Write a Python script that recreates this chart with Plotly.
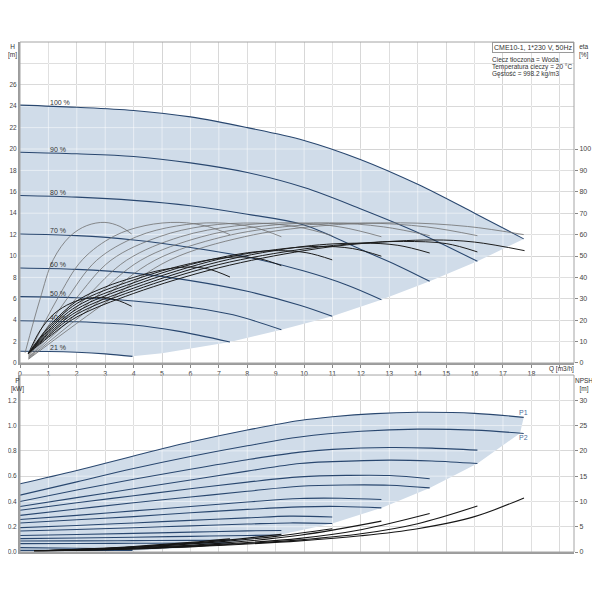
import numpy as np
import plotly.graph_objects as go

speed_labels = ["100 %", "90 %", "80 %", "70 %", "60 %", "50 %", "40 %", "21 %"]

# H [m] against Q [m3/h], one list per speed
head_q = [
    [0, 2, 4, 6, 8, 10, 12, 14, 16, 17.73],
    [0, 2, 4, 6, 8, 10, 12, 14, 16.1],
    [0, 2, 4, 6, 8, 10, 12, 13.3, 14.42],
    [0, 2, 4, 6, 8, 10, 11.5, 12.72],
    [0, 2, 4, 6, 8, 9.85, 10.99],
    [0, 2, 4, 6, 7.5, 9.2],
    [0, 2, 4, 5.5, 7.39],
    [0, 1, 2, 3, 3.96],
]
head_h = [
    [24.1, 23.9, 23.6, 23.0, 22.0, 20.8, 19.0, 16.7, 14.0, 11.6],
    [19.7, 19.55, 19.3, 18.7, 17.8, 16.4, 14.4, 12.2, 9.5],
    [15.65, 15.5, 15.2, 14.7, 13.9, 12.9, 10.6, 9.1, 7.63],
    [12.05, 11.9, 11.5, 10.8, 9.9, 8.6, 7.3, 5.92],
    [8.88, 8.75, 8.4, 7.7, 6.7, 5.4, 4.36],
    [6.2, 6.1, 5.8, 5.2, 4.5, 3.1],
    [3.95, 3.85, 3.55, 3.0, 1.96],
    [1.1, 1.08, 1.0, 0.85, 0.62],
]

# lower right edge of the shaded H area
edge_q = [5.0, 7.39, 9.2, 10.99, 12.72, 14.42, 16.1, 17.73]
edge_h = [0.9, 1.96, 3.1, 4.36, 5.92, 7.63, 9.5, 11.6]

# eta [%] thin grey curves
eta_q = [
    [0.3, 3.15, 5.25, 7.9, 10.5, 13.4, 15.75, 17.73],
    [0.3, 2.85, 4.75, 7.15, 9.55, 12.15, 14.3, 16.1],
    [0.3, 2.55, 4.25, 6.4, 8.55, 10.9, 12.8, 14.42],
    [0.3, 2.25, 3.75, 5.65, 7.55, 9.6, 11.3, 12.72],
    [0.3, 1.9, 3.2, 4.9, 6.5, 8.3, 9.8, 10.99],
    [0.3, 1.6, 2.7, 4.1, 5.5, 6.9, 8.2, 9.2],
    [0.3, 1.3, 2.2, 3.3, 4.4, 5.6, 6.6, 7.39],
    [0.18, 0.7, 1.17, 1.76, 2.35, 2.99, 3.52, 3.93],
]
eta_v = [
    [1.8, 29.5, 48, 59, 64, 65.5, 63.8, 60],
    [2, 29.5, 48, 59, 64, 65.4, 63.6, 59.5],
    [2.3, 29.5, 48, 59, 64, 65.5, 63.6, 59.5],
    [2.5, 29.5, 48, 59, 64, 65.5, 63.5, 59],
    [3, 29, 48, 59, 64, 65.4, 63.5, 59.5],
    [3.5, 29, 48, 59, 64, 65.5, 63.5, 59],
    [4, 29.6, 48.3, 59.2, 64.2, 65.7, 63.8, 60],
    [4.8, 29.6, 48.3, 59.2, 64.2, 65.7, 63.8, 60.3],
]

# eta [%] black curves
etat_q = [
    [0.3, 1, 2, 4, 7, 10, 12, 14.5, 16, 17.76],
    [0.3, 1, 2, 4, 7, 10, 12, 13.5, 15, 16.1],
    [0.3, 1, 2, 4, 7, 10, 12, 13.3, 14.42],
    [0.3, 1, 2, 4, 7, 9, 10.5, 11.7, 12.72],
    [0.3, 1, 2, 4, 6, 8, 9.1, 10.1, 10.99],
    [0.3, 1, 2, 4, 6, 7.5, 8.4, 9.2],
    [0.3, 1, 2, 3, 4, 5, 5.8, 6.6, 7.39],
    [0.3, 0.7, 1.2, 1.8, 2.4, 3.0, 3.5, 3.93],
]
etat_v = [
    [4.5, 12, 21.5, 32.5, 44.5, 52.5, 55.8, 57.5, 56.5, 52.5],
    [4.5, 12.8, 22.8, 33.8, 46, 53.3, 56, 56.8, 55.8, 51.9],
    [4.5, 13.6, 24, 35, 47.3, 54.5, 56, 55, 51.4],
    [4.5, 14.4, 25.2, 36.3, 48.5, 53, 54.5, 53.5, 49.9],
    [4.5, 15.2, 26.5, 37.5, 46, 51.5, 52.5, 51.5, 48.2],
    [4.5, 16, 27.8, 38.8, 46.5, 49.5, 48.8, 45.5],
    [4.5, 16.8, 29, 35.5, 40, 43.5, 44.8, 44, 40.2],
    [4.5, 15, 23, 28, 30.3, 30.5, 29, 26.5],
]

# P1 / P2 [kW]
p1_q = [
    [0, 2, 4, 6, 8, 9.85, 11, 12.5, 14, 16, 17.73],
    [0, 2, 4, 6, 8, 9.85, 11, 13, 14.5, 16.1],
    [0, 2, 4, 6, 8, 9.85, 11.5, 13, 14.42],
    [0, 2, 4, 6, 8, 9.85, 11.3, 12.72],
    [0, 2, 4, 6, 8, 9.5, 10.99],
    [0, 2, 4, 6, 8, 9.2],
    [0, 2, 4, 6, 7.39],
    [0, 2, 3.96],
]
p1_v = [
    [0.54, 0.645, 0.76, 0.87, 0.965, 1.04, 1.07, 1.095, 1.105, 1.097, 1.065],
    [0.40, 0.49, 0.575, 0.655, 0.73, 0.79, 0.812, 0.827, 0.822, 0.806],
    [0.33, 0.39, 0.445, 0.50, 0.553, 0.594, 0.606, 0.605, 0.58],
    [0.257, 0.29, 0.325, 0.36, 0.395, 0.423, 0.425, 0.415],
    [0.193, 0.21, 0.23, 0.25, 0.27, 0.284, 0.277],
    [0.13, 0.138, 0.147, 0.157, 0.167, 0.17],
    [0.087, 0.088, 0.09, 0.092, 0.093],
    [0.035, 0.03, 0.025],
]
p2_q = [
    [0, 2, 4, 6, 8, 9.85, 12, 14, 16, 17.73],
    [0, 2, 4, 6, 8, 9.85, 11, 13, 14.5, 16.1],
    [0, 2, 4, 6, 8, 9.85, 11.5, 13, 14.42],
    [0, 2, 4, 6, 8, 9.85, 11.3, 12.72],
    [0, 2, 4, 6, 8, 9.5, 10.99],
    [0, 2, 4, 6, 8, 9.2],
    [0, 2, 4, 6, 7.39],
    [0, 2, 3.96],
]
p2_v = [
    [0.45, 0.555, 0.66, 0.755, 0.84, 0.91, 0.955, 0.972, 0.964, 0.938],
    [0.36, 0.43, 0.50, 0.57, 0.64, 0.70, 0.715, 0.727, 0.72, 0.70],
    [0.29, 0.34, 0.39, 0.435, 0.48, 0.52, 0.53, 0.528, 0.507],
    [0.23, 0.255, 0.28, 0.31, 0.337, 0.357, 0.36, 0.349],
    [0.166, 0.178, 0.192, 0.207, 0.221, 0.23, 0.225],
    [0.106, 0.111, 0.117, 0.124, 0.131, 0.134],
    [0.066, 0.067, 0.069, 0.071, 0.072],
    [0.013, 0.013, 0.012],
]

# lower edge of the shaded P area
p_edge_q = [0, 3.96, 5.6, 7.39, 9.2, 10.99, 12.72, 14.42, 16.1, 17.6, 17.73]
p_edge_v = [0, 0.01, 0.03, 0.072, 0.138, 0.225, 0.349, 0.507, 0.70, 0.94, 1.065]

# NPSH [m]
npsh_q = [
    [0.5, 4, 7, 9.85, 12, 14, 16, 17.74],
    [0.5, 4, 7, 9.85, 12, 14, 16.1],
    [0.5, 4, 7, 9.85, 12, 14.42],
    [0.5, 4, 7, 9.85, 12.72],
    [0.5, 4, 7, 9, 10.99],
    [0.5, 4, 7, 9.2],
    [0.5, 4, 6, 7.39],
    [0.5, 2.5, 3.96],
]
npsh_v = [
    [0.2, 0.6, 1.3, 2.2, 3.2, 4.6, 7.0, 10.7],
    [0.2, 0.6, 1.4, 2.4, 3.6, 5.6, 9.1],
    [0.2, 0.7, 1.5, 2.7, 4.4, 7.6],
    [0.2, 0.8, 1.7, 3.3, 6.1],
    [0.2, 0.9, 2.0, 3.1, 4.6],
    [0.2, 1.0, 2.2, 3.5],
    [0.2, 1.1, 1.9, 2.6],
    [0.2, 0.6, 1.0],
]

q_ticks = list(range(0, 20))
h_ticks = list(range(0, 30, 2))
eta_ticks = list(range(0, 110, 10))
p_ticks = [0.0, 0.2, 0.4, 0.6, 0.8, 1.0, 1.2]
npsh_ticks = list(range(0, 35, 5))

FONT = "Liberation Sans, Arial, sans-serif"
FS = 7
FILL = "#d0dce9"
BLUE = "#29476f"
GRIDC = "#c6c6c6"
fig = go.Figure()


def grid_trace(xax, yax, ymax, yt):
    gx, gy = [], []
    for q in q_ticks[1:]:
        gx += [q, q, None]
        gy += [0, ymax, None]
    for h in yt[1:]:
        gx += [0, 19.5, None]
        gy += [h, h, None]
    return go.Scatter(x=gx, y=gy, mode="lines", xaxis=xax, yaxis=yax,
                      line=dict(color="rgba(255,255,255,0.5)", width=1),
                      hoverinfo="skip", showlegend=False)


# ---- top: shaded area
fig.add_trace(go.Scatter(x=head_q[-1] + edge_q, y=head_h[-1] + edge_h, mode="lines",
                         line=dict(width=0), xaxis="x", yaxis="y", showlegend=False,
                         hoverinfo="skip"))
fig.add_trace(go.Scatter(x=head_q[0], y=head_h[0], mode="lines", fill="tonexty",
                         fillcolor=FILL, line=dict(width=0, shape="spline"),
                         xaxis="x", yaxis="y", showlegend=False, hoverinfo="skip"))
fig.add_trace(grid_trace("x", "y", 30, h_ticks))

for i, lab in enumerate(speed_labels):
    fig.add_trace(go.Scatter(x=head_q[i], y=head_h[i], mode="lines", name=lab,
                             line=dict(color=BLUE, width=1.1, shape="spline"),
                             xaxis="x", yaxis="y", showlegend=False))
for i in range(len(speed_labels)):
    fig.add_trace(go.Scatter(x=eta_q[i], y=eta_v[i], mode="lines",
                             line=dict(color="#707070", width=0.8, shape="spline"),
                             xaxis="x", yaxis="y3", showlegend=False))
for i in range(len(speed_labels)):
    fig.add_trace(go.Scatter(x=etat_q[i], y=etat_v[i], mode="lines",
                             line=dict(color="#1c1c1c", width=1.0, shape="spline"),
                             xaxis="x", yaxis="y3", showlegend=False))

# ---- bottom: shaded area
fig.add_trace(go.Scatter(x=p_edge_q, y=p_edge_v, mode="lines", line=dict(width=0),
                         xaxis="x2", yaxis="y2", showlegend=False, hoverinfo="skip"))
fig.add_trace(go.Scatter(x=p1_q[0], y=p1_v[0], mode="lines", fill="tonexty",
                         fillcolor=FILL, line=dict(width=0, shape="spline"),
                         xaxis="x2", yaxis="y2", showlegend=False, hoverinfo="skip"))
fig.add_trace(grid_trace("x2", "y2", 1.4, p_ticks + [1.4]))

for i in range(len(speed_labels)):
    for qq, vv in ((p1_q[i], p1_v[i]), (p2_q[i], p2_v[i])):
        fig.add_trace(go.Scatter(x=qq, y=vv, mode="lines",
                                 line=dict(color=BLUE, width=1.1, shape="spline"),
                                 xaxis="x2", yaxis="y2", showlegend=False))
for i in range(len(speed_labels)):
    fig.add_trace(go.Scatter(x=npsh_q[i], y=npsh_v[i], mode="lines",
                             line=dict(color="#161616", width=1.1, shape="spline"),
                             xaxis="x2", yaxis="y4", showlegend=False))

tickfont = dict(family=FONT, size=FS, color="#444")
small = dict(family=FONT, size=6.5, color="#444")
common_x = dict(range=[0, 19.5], tickvals=q_ticks, showgrid=True, gridcolor=GRIDC,
                gridwidth=1, zeroline=False, showline=True, linecolor="#9c9c9c",
                linewidth=2, ticks="outside", ticklen=3, tickcolor="#888",
                tickfont=tickfont, automargin=False)
common_y = dict(showgrid=True, gridcolor=GRIDC, gridwidth=1, zeroline=False,
                showline=True, linecolor="#9c9c9c", linewidth=2, ticks="",
                tickfont=small, automargin=False)
right_y = dict(showgrid=False, zeroline=False, showline=False, ticks="outside",
               ticklen=3, tickcolor="#888", tickfont=tickfont, side="right",
               automargin=False)

# the page puts the figure 8 px in from the top-left corner
fig.update_layout(
    width=592, height=592,
    margin=dict(l=12, r=26, t=34, b=48, autoexpand=False),
    paper_bgcolor="white", plot_bgcolor="white",
    font=dict(family=FONT, size=FS, color="#333"),
    showlegend=False,
    xaxis=dict(common_x, anchor="y",
               ticktext=[str(q) for q in q_ticks[:-1]] + [""]),
    yaxis=dict(common_y, domain=[0.3706, 1], range=[0, 30], tickvals=h_ticks,
               ticktext=[str(h) for h in h_ticks[:-1]] + [""]),
    yaxis3=dict(right_y, overlaying="y", anchor="x", range=[0, 150],
                tickvals=eta_ticks),
    xaxis2=dict(common_x, anchor="y2", showticklabels=False, ticks=""),
    yaxis2=dict(common_y, domain=[0, 0.347], range=[0, 1.4], tickvals=p_ticks + [1.4],
                ticktext=["%.1f" % p for p in p_ticks] + [""]),
    yaxis4=dict(right_y, overlaying="y2", anchor="x2", range=[0, 35],
                tickvals=npsh_ticks),
)

for xr, yr in (("x domain", "y domain"), ("x2 domain", "y2 domain")):
    fig.add_shape(type="rect", xref=xr, yref=yr, x0=0, x1=1, y0=0, y1=1,
                  line=dict(color="#a4a4a4", width=1))


def px_x(p):
    return (p - 20) / 554.0


def px_y(p):
    return (552 - p) / 510.0


def note(text, x, y, size=6.5, xanchor="center"):
    fig.add_annotation(text=text, x=px_x(x), y=px_y(y), xref="paper", yref="paper",
                       xanchor=xanchor, yanchor="middle", showarrow=False,
                       font=dict(family=FONT, size=size, color="#333"))


note("H<br>[m]", 12.5, 50.5)
note("eta<br>[%]", 584, 50.5)
note("P<br>[kW]", 8.5, 384.5, xanchor="left")
note("NPSH<br>[m]", 584, 384.5)
note("Q [m3/h]", 547, 369, xanchor="left")
note("Ciecz tłoczona = Woda", 490, 59.3, xanchor="left")
note("Temperatura cieczy = 20 °C", 490, 66.7, xanchor="left")
note("Gęstość = 998.2 kg/m3", 490, 74, xanchor="left")

fig.add_annotation(text="CME10-1, 1*230 V, 50Hz", x=1, y=1, xref="paper", yref="paper",
                   xanchor="right", yanchor="top", showarrow=False,
                   bordercolor="#9a9a9a", borderwidth=1, borderpad=1,
                   bgcolor="white", font=dict(family=FONT, size=FS, color="#333"))

for i, lab in enumerate(speed_labels):
    fig.add_annotation(text=lab, x=1.0, y=float(np.interp(1.0, head_q[i], head_h[i])),
                       xref="x", yref="y", xanchor="left", yanchor="bottom",
                       showarrow=False, yshift=-1.5,
                       font=dict(family=FONT, size=FS, color="#333"))

fig.add_annotation(text="P1", x=p1_q[0][-1], y=p1_v[0][-1], xref="x2", yref="y2",
                   yanchor="bottom", showarrow=False, yshift=-1,
                   font=dict(family=FONT, size=FS, color="#4a6c9a"))
fig.add_annotation(text="P2", x=p2_q[0][-1], y=p2_v[0][-1], xref="x2", yref="y2",
                   yanchor="top", showarrow=False, yshift=1,
                   font=dict(family=FONT, size=FS, color="#4a6c9a"))

fig.write_html("out.html")
